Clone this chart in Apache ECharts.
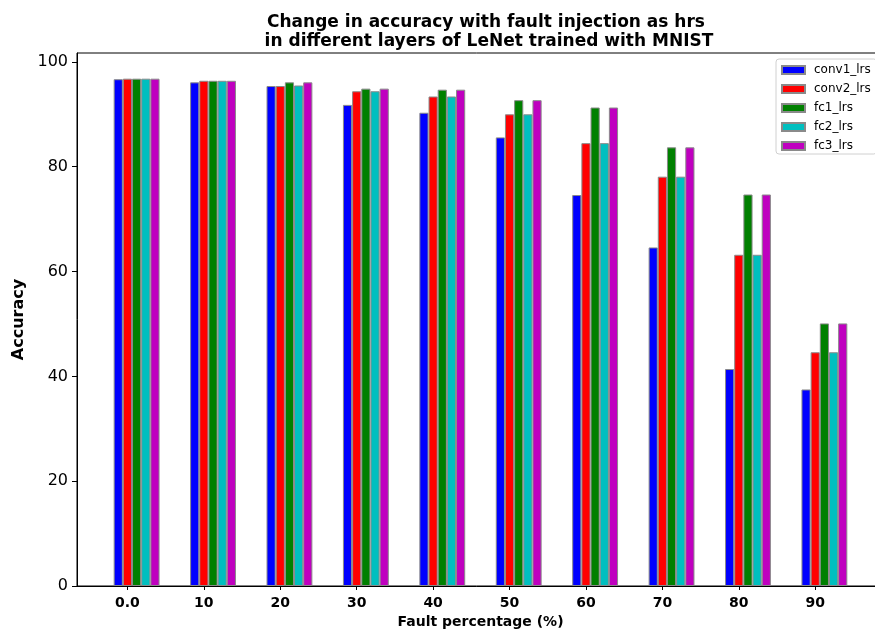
<!DOCTYPE html>
<html>
<head>
<meta charset="utf-8">
<script src="https://cdn.jsdelivr.net/npm/echarts@6/dist/echarts.min.js"></script>
<style>
  html, body { margin: 0; padding: 0; background: #fff; }
  #chart { width: 875px; height: 630px; }
</style>
</head>
<body>
<div id="chart"></div>
<script>
// Fault percentages shown under each group of bars
const faultLabels = ['0.0', '10', '20', '30', '40', '50', '60', '70', '80', '90'];

// Accuracy (%) per layer that receives the fault injection
const conv1_lrs = [96.7, 96.1, 95.4, 91.8, 90.3, 85.6, 74.6, 64.6, 41.4, 37.5];
const conv2_lrs = [96.8, 96.4, 95.4, 94.4, 93.4, 90.0, 84.5, 78.1, 63.2, 44.6];
const fc1_lrs   = [96.8, 96.4, 96.1, 94.9, 94.7, 92.7, 91.3, 83.7, 74.7, 50.1];
const fc2_lrs   = [96.8, 96.4, 95.5, 94.4, 93.4, 90.0, 84.5, 78.1, 63.2, 44.6];
const fc3_lrs   = [96.8, 96.4, 96.1, 94.9, 94.7, 92.7, 91.3, 83.7, 74.7, 50.1];

const yTicks = [0, 20, 40, 60, 80, 100];

const layers = [
  { name: 'conv1_lrs', values: conv1_lrs, color: '#0000ff' },
  { name: 'conv2_lrs', values: conv2_lrs, color: '#ff0000' },
  { name: 'fc1_lrs',   values: fc1_lrs,   color: '#008000' },
  { name: 'fc2_lrs',   values: fc2_lrs,   color: '#00bfbf' },
  { name: 'fc3_lrs',   values: fc3_lrs,   color: '#bf00bf' }
];

const FONT = 'DejaVu Sans';
const BAR = '12%';

// Two empty slots ahead of the groups so that each group's tick sits under
// its second bar (bars run at x, x+w, x+2w, ... with the tick at x+w).
const spacer = () => ({
  type: 'bar', name: '', data: [], barWidth: BAR, barGap: '0%', silent: true
});

const series = [spacer(), spacer()].concat(layers.map(l => ({
  type: 'bar',
  name: l.name,
  barWidth: BAR,
  barGap: '0%',
  itemStyle: { color: l.color, borderColor: '#8a8a8a', borderWidth: 1 },
  data: l.values.map((v, i) => [i, v])
})));

const chart = echarts.init(document.getElementById('chart'), null, { renderer: 'canvas' });
chart.setOption({
  animation: false,
  backgroundColor: '#ffffff',
  title: {
    text: 'Change in accuracy with fault injection as hrs\n in different layers of LeNet trained with MNIST',
    left: 481, top: 8, textAlign: 'center',
    textStyle: { fontFamily: FONT, fontSize: 17, fontWeight: 'bold', color: '#000', lineHeight: 19 }
  },
  legend: {
    orient: 'vertical',
    left: 776, top: 59,
    padding: [4, 6, 1, 5],
    itemGap: 5,
    itemWidth: 23, itemHeight: 8,
    icon: 'rect',
    borderColor: '#d0d0d0', borderWidth: 1, borderRadius: 3,
    backgroundColor: 'rgba(255,255,255,0.8)',
    data: layers.map(l => l.name),
    textStyle: { fontFamily: FONT, fontSize: 12, color: '#000', padding: [0, 0, 0, 4], lineHeight: 14 }
  },
  grid: {
    left: 77, right: -9, top: 53, bottom: 44,
    outerBoundsMode: 'none',
    containLabel: false,
    show: true, borderColor: '#000', borderWidth: 1, backgroundColor: 'transparent'
  },
  xAxis: {
    type: 'value',
    min: -0.66, max: 9.90,
    name: 'Fault percentage (%)',
    nameLocation: 'middle', nameGap: 29,
    nameTextStyle: { fontFamily: FONT, fontSize: 14, fontWeight: 'bold', color: '#000' },
    splitLine: { show: false },
    axisLine: { show: true, onZero: false, lineStyle: { color: '#000', width: 1 } },
    axisTick: { show: true, length: 4, lineStyle: { color: '#000' }, customValues: faultLabels.map((_, i) => i) },
    axisLabel: {
      customValues: faultLabels.map((_, i) => i),
      formatter: v => faultLabels[Math.round(v)],
      margin: 10,
      fontFamily: FONT, fontSize: 14, fontWeight: 'bold', color: '#000'
    }
  },
  yAxis: {
    type: 'value',
    min: 0, max: 101.7,
    name: 'Accuracy',
    nameLocation: 'middle', nameGap: 48, nameRotate: 90,
    nameTextStyle: { fontFamily: FONT, fontSize: 16, fontWeight: 'bold', color: '#000' },
    splitLine: { show: false },
    axisLine: { show: true, onZero: false, lineStyle: { color: '#000', width: 1 } },
    axisTick: { show: true, length: 5, lineStyle: { color: '#000' }, customValues: yTicks },
    axisLabel: {
      customValues: yTicks,
      margin: 9,
      fontFamily: FONT, fontSize: 16, color: '#000'
    }
  },
  series: series
});
</script>
</body>
</html>
